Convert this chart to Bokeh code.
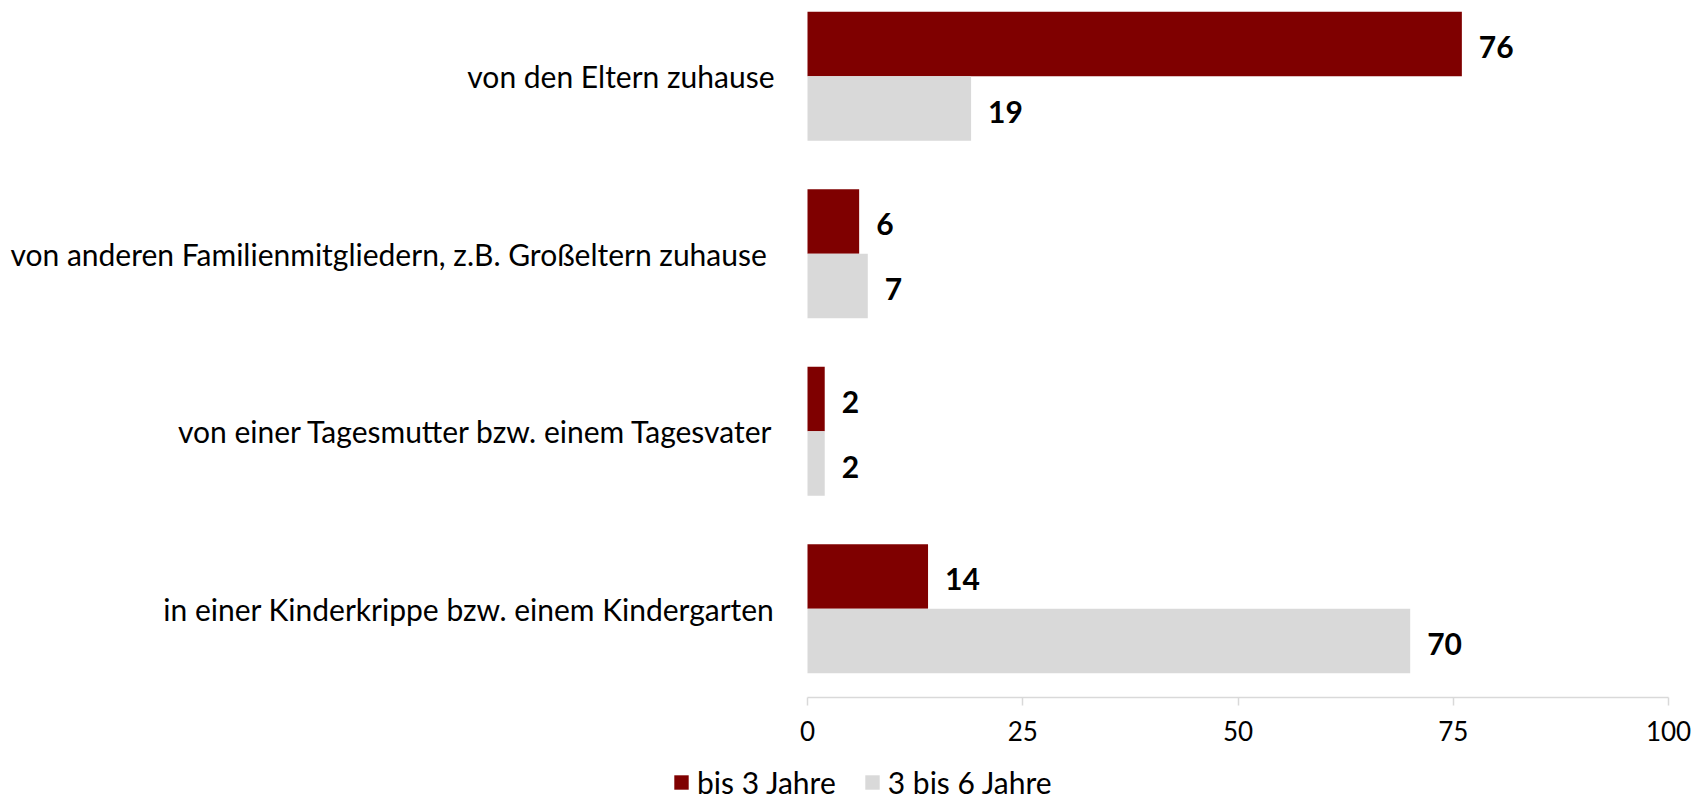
from bokeh.plotting import figure
from bokeh.models import Range1d, FixedTicker, Legend, LegendItem
from bokeh.core.properties import value
from bokeh.embed import file_html
from bokeh.resources import INLINE

categories = [
    "von den Eltern zuhause",
    "von anderen Familienmitgliedern, z.B. Großeltern zuhause ",
    "von einer Tagesmutter bzw. einem Tagesvater",
    "in einer Kinderkrippe bzw. einem Kindergarten",
]
series_names = ["bis 3 Jahre", "3 bis 6 Jahre"]
bis3 = [76, 6, 2, 14]
bis6 = [19, 7, 2, 70]
x_ticks = [0, 25, 50, 75, 100]

RED = "#7f0000"
GRAY = "#d9d9d9"
FONT = "Lato"

W, H = 1705, 802
# pixel layout of the plotting area inside the page
PX_LEFT, PX_RIGHT, PX_AXIS, CAT_PX = 807, 1668, 697, 177.5

n = len(categories)
centers = [n - i - 0.5 for i in range(n)]
bar_h = 0.3634
y_red = [c + bar_h / 2 for c in centers]
y_gray = [c - bar_h / 2 for c in centers]

xmax = max(x_ticks)
ppu = (PX_RIGHT - PX_LEFT) / xmax
x_range = Range1d(-PX_LEFT / ppu, xmax + (W - PX_RIGHT) / ppu)
y_range = Range1d(-(H - PX_AXIS) / CAT_PX, PX_AXIS / CAT_PX)

p = figure(width=W, height=H, output_backend="svg", toolbar_location=None,
           x_range=x_range, y_range=y_range)
p.min_border = 0
p.outline_line_color = None
p.xgrid.grid_line_color = None
p.ygrid.grid_line_color = None

r1 = p.hbar(y=y_red, right=bis3, left=0, height=bar_h, fill_color=RED, line_color=None)
r2 = p.hbar(y=y_gray, right=bis6, left=0, height=bar_h, fill_color=GRAY, line_color=None)

lbl_style = dict(x_offset=17, y_offset=3, text_baseline="middle", text_align="left",
                 text_font=value(FONT), text_font_style="bold",
                 text_font_size="30px", text_color="#000000")
p.text(x=bis3, y=y_red, text=[str(v) for v in bis3], **lbl_style)
p.text(x=bis6, y=y_gray, text=[str(v) for v in bis6], **lbl_style)

# x axis, drawn at value 0 of the y scale
xa = p.xaxis[0]
xa.fixed_location = 0
xa.bounds = (0, xmax)
xa.ticker = FixedTicker(ticks=x_ticks)
xa.axis_line_color = GRAY
xa.axis_line_width = 1.5
xa.major_tick_line_color = GRAY
xa.major_tick_line_width = 1.5
xa.major_tick_in = 0
xa.major_tick_out = 8
xa.minor_tick_line_color = None
xa.major_label_text_font = FONT
xa.major_label_text_font_size = "26px"
xa.major_label_text_color = "#000000"
xa.major_label_standoff = 15

# y axis with category labels, drawn at value 0 of the x scale
ya = p.yaxis[0]
ya.fixed_location = 0
ya.ticker = FixedTicker(ticks=centers)
ya.major_label_overrides = {c: lab for c, lab in zip(centers, categories)}
ya.axis_line_color = None
ya.major_tick_line_color = None
ya.minor_tick_line_color = None
ya.major_tick_out = 0
ya.major_tick_in = 0
ya.major_label_standoff = 33
ya.major_label_text_font = FONT
ya.major_label_text_font_size = "30px"
ya.major_label_text_color = "#000000"

legend = Legend(items=[LegendItem(label=series_names[0], renderers=[r1]),
                       LegendItem(label=series_names[1], renderers=[r2])],
                orientation="horizontal", location=(672, 2),
                padding=0, margin=0, spacing=27,
                glyph_width=18, glyph_height=18, label_standoff=7,
                label_text_font=FONT, label_text_font_size="30px",
                label_text_color="#000000",
                border_line_color=None, background_fill_alpha=0)
p.add_layout(legend, "center")

open("out.html", "w").write(file_html(p, INLINE))
